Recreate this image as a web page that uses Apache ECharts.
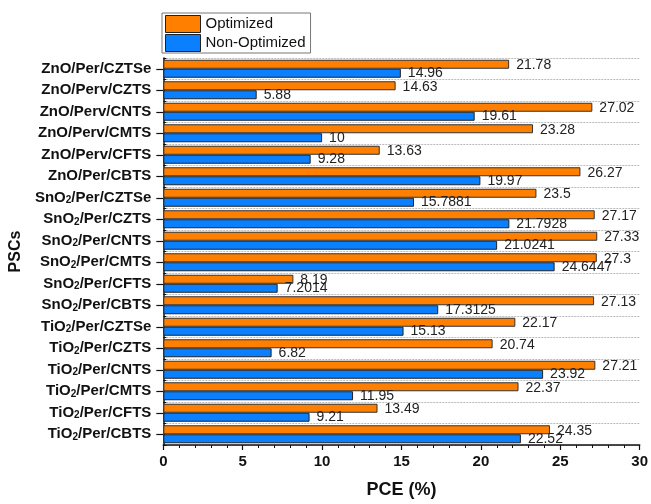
<!DOCTYPE html>
<html><head><meta charset="utf-8">
<script src="https://cdn.jsdelivr.net/npm/echarts@6/dist/echarts.min.js"></script>
<style>html,body{margin:0;padding:0;background:#fff}#c{width:651px;height:504px}</style>
</head><body><div id="c"></div>
<script>
// categories listed bottom-to-top
var categories = [
  'TiO{sub|2}/Per/CBTS','TiO{sub|2}/Per/CFTS','TiO{sub|2}/Per/CMTS','TiO{sub|2}/Per/CNTS','TiO{sub|2}/Per/CZTS','TiO{sub|2}/Per/CZTSe',
  'SnO{sub|2}/Per/CBTS','SnO{sub|2}/Per/CFTS','SnO{sub|2}/Per/CMTS','SnO{sub|2}/Per/CNTS','SnO{sub|2}/Per/CZTS','SnO{sub|2}/Per/CZTSe',
  'ZnO/Per/CBTS','ZnO/Perv/CFTS','ZnO/Perv/CMTS','ZnO/Perv/CNTS','ZnO/Perv/CZTS','ZnO/Per/CZTSe'
];
var optimized = [24.35,13.49,22.37,27.21,20.74,22.17, 27.13,8.19,27.3,27.33,27.17,23.5, 26.27,13.63,23.28,27.02,14.63,21.78];
var nonOptimized = [22.52,9.21,11.95,23.92,6.82,15.13, 17.3125,7.2014,24.6447,21.0241,21.7928,15.7881, 19.97,9.28,10,19.61,5.88,14.96];
var seriesNames = ['Optimized','Non-Optimized'];
var xTicks = {min:0, max:30, interval:5};

var font = 'Liberation Sans, Arial, sans-serif';
var chart = echarts.init(document.getElementById('c'), null, {renderer:'canvas'});
chart.setOption({
  animation:false,
  textStyle:{fontFamily:font},
  grid:{left:163, right:9, top:58, bottom:56, containLabel:false},
  legend:{
    orient:'vertical', left:162, top:13,
    data:seriesNames, icon:'rect',
    itemWidth:35, itemHeight:17, itemGap:1,
    borderColor:'#777', borderWidth:1, padding:[2,5,1,3],
    textStyle:{fontSize:15, color:'#111', fontFamily:font},
    itemStyle:{borderColor:'#222', borderWidth:1}
  },
  xAxis:{
    type:'value', min:xTicks.min, max:xTicks.max, interval:xTicks.interval,
    name:'PCE (%)', nameLocation:'middle', nameGap:36,
    nameTextStyle:{fontSize:18, fontWeight:'bold', color:'#111', fontFamily:font},
    axisLine:{show:true, lineStyle:{color:'#111', width:1.5}},
    axisTick:{show:true, length:5, lineStyle:{color:'#111', width:1.2}},
    minorTick:{show:true, splitNumber:5, length:3, lineStyle:{color:'#111', width:1}},
    axisLabel:{fontSize:15, fontWeight:'bold', color:'#111', margin:9, fontFamily:font},
    splitLine:{show:false}
  },
  yAxis:[{
    type:'category', data:categories,
    name:'PSCs', nameLocation:'middle', nameGap:137, nameRotate:90,
    nameTextStyle:{fontSize:16, fontWeight:'bold', color:'#111', fontFamily:font},
    axisLine:{show:true, lineStyle:{color:'#111', width:1.5}},
    axisTick:{show:true, alignWithLabel:true, length:7, lineStyle:{color:'#111', width:1.2}},
    axisLabel:{
      margin:12, color:'#111', fontSize:15, fontWeight:'bold', fontFamily:font,
      rich:{
        sub:{fontSize:10, fontWeight:'bold', color:'#111', verticalAlign:'bottom', lineHeight:10, fontFamily:font}
      }
    },
    splitLine:{show:true, lineStyle:{color:'#bbb', type:[2,1], width:1}}
  },{
    type:'category', data:categories, position:'left',
    axisLine:{show:false}, axisLabel:{show:false},
    axisTick:{show:true, inside:true, length:3, lineStyle:{color:'#111', width:1}},
    splitLine:{show:false}
  }],
  series:[{
    name:seriesNames[0], type:'bar', data:optimized,
    barWidth:9, barGap:'0%',
    itemStyle:{color:'#FF7F00', borderColor:'#333', borderWidth:1},
    label:{show:true, position:'right', distance:7, fontSize:14, color:'#222', fontFamily:font, offset:[0,1]}
  },{
    name:seriesNames[1], type:'bar', data:nonOptimized,
    barWidth:9, barGap:'0%',
    itemStyle:{color:'#0A80FF', borderColor:'#222', borderWidth:1},
    label:{show:true, position:'right', distance:7, fontSize:14, color:'#222', fontFamily:font}
  }]
});
</script></body></html>
